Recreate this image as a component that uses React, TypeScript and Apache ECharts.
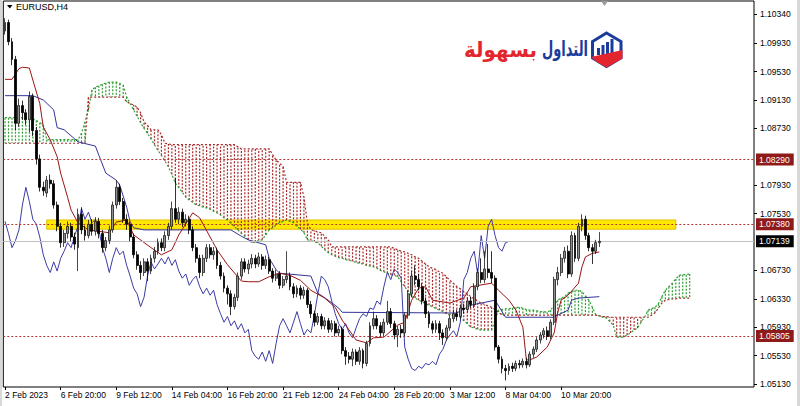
import React, { useEffect, useRef } from "react";
import * as echarts from "echarts";

// ---------- data ----------
const SYMBOL_TITLE = "EURUSD,H4";
const LOGO_BLUE_WORD = "التداول";
const LOGO_RED_WORD = "بسهولة";
const BAR_SLOTS = 216; // visible bar slots on the H4 time axis

const X_TICKS: [number, string][] = [
  [0, "2 Feb 2023"], [16, "6 Feb 20:00"], [32, "9 Feb 12:00"], [48, "14 Feb 04:00"],
  [64, "16 Feb 20:00"], [80, "21 Feb 12:00"], [96, "24 Feb 04:00"], [112, "28 Feb 20:00"],
  [128, "3 Mar 12:00"], [144, "8 Mar 04:00"], [160, "10 Mar 20:00"],
];
const Y_TICKS = [1.1034, 1.0993, 1.0953, 1.0913, 1.0873, 1.0793, 1.0753, 1.0673, 1.0633, 1.0593, 1.0553, 1.0513];
const Y_MIN = 1.05088;
const Y_MAX = 1.10523;

// [open, close, low, high]
const CANDLES: number[][] = [
  [1.1010, 1.1022, 1.1005, 1.1028], [1.1022, 1.0995, 1.0990, 1.1026], [1.0995, 1.0970, 1.0962, 1.1000], [1.0970, 1.0880, 1.0870, 1.0975],
  [1.0880, 1.0905, 1.0875, 1.0915], [1.0905, 1.0895, 1.0885, 1.0912], [1.0895, 1.0885, 1.0878, 1.0900], [1.0885, 1.0918, 1.0868, 1.0925],
  [1.0918, 1.0870, 1.0862, 1.0922], [1.0870, 1.0830, 1.0822, 1.0875], [1.0830, 1.0790, 1.0784, 1.0836], [1.0790, 1.0785, 1.0778, 1.0798],
  [1.0782, 1.0800, 1.0776, 1.0806], [1.0800, 1.0795, 1.0788, 1.0808], [1.0795, 1.0765, 1.0760, 1.0800], [1.0765, 1.0735, 1.0728, 1.0770],
  [1.0735, 1.0712, 1.0705, 1.0740], [1.0712, 1.0725, 1.0706, 1.0730], [1.0725, 1.0735, 1.0718, 1.0742], [1.0735, 1.0720, 1.0714, 1.0740],
  [1.0720, 1.0710, 1.0702, 1.0726], [1.0705, 1.0752, 1.0672, 1.0760], [1.0752, 1.0730, 1.0724, 1.0762], [1.0730, 1.0722, 1.0715, 1.0736],
  [1.0722, 1.0738, 1.0718, 1.0744], [1.0738, 1.0728, 1.0722, 1.0745], [1.0728, 1.0742, 1.0722, 1.0748], [1.0742, 1.0725, 1.0718, 1.0747],
  [1.0725, 1.0705, 1.0698, 1.0730], [1.0705, 1.0715, 1.0700, 1.0720], [1.0715, 1.0730, 1.0710, 1.0736], [1.0730, 1.0765, 1.0726, 1.0770],
  [1.0765, 1.0790, 1.0760, 1.0800], [1.0790, 1.0770, 1.0765, 1.0795], [1.0770, 1.0745, 1.0740, 1.0775], [1.0745, 1.0738, 1.0730, 1.0752],
  [1.0738, 1.0720, 1.0714, 1.0742], [1.0720, 1.0695, 1.0690, 1.0725], [1.0695, 1.0680, 1.0674, 1.0700], [1.0680, 1.0670, 1.0660, 1.0686],
  [1.0670, 1.0685, 1.0665, 1.0690], [1.0685, 1.0672, 1.0658, 1.0690], [1.0672, 1.0690, 1.0668, 1.0695], [1.0690, 1.0700, 1.0684, 1.0706],
  [1.0700, 1.0712, 1.0695, 1.0718], [1.0712, 1.0705, 1.0700, 1.0718], [1.0705, 1.0722, 1.0700, 1.0728], [1.0722, 1.0735, 1.0716, 1.0740],
  [1.0735, 1.0760, 1.0730, 1.0770], [1.0760, 1.0745, 1.0740, 1.0803], [1.0745, 1.0755, 1.0738, 1.0762], [1.0755, 1.0740, 1.0734, 1.0760],
  [1.0740, 1.0745, 1.0735, 1.0752], [1.0745, 1.0730, 1.0724, 1.0750], [1.0730, 1.0705, 1.0700, 1.0735], [1.0705, 1.0690, 1.0684, 1.0710],
  [1.0690, 1.0670, 1.0662, 1.0695], [1.0670, 1.0690, 1.0665, 1.0695], [1.0690, 1.0705, 1.0685, 1.0710], [1.0705, 1.0695, 1.0690, 1.0710],
  [1.0695, 1.0700, 1.0688, 1.0706], [1.0700, 1.0680, 1.0675, 1.0705], [1.0680, 1.0665, 1.0660, 1.0685], [1.0665, 1.0648, 1.0642, 1.0670],
  [1.0648, 1.0640, 1.0625, 1.0652], [1.0640, 1.0622, 1.0610, 1.0645], [1.0622, 1.0635, 1.0618, 1.0640], [1.0635, 1.0665, 1.0630, 1.0670],
  [1.0665, 1.0685, 1.0660, 1.0690], [1.0685, 1.0675, 1.0670, 1.0690], [1.0675, 1.0682, 1.0668, 1.0688], [1.0682, 1.0690, 1.0676, 1.0696],
  [1.0690, 1.0682, 1.0676, 1.0695], [1.0682, 1.0692, 1.0678, 1.0698], [1.0692, 1.0680, 1.0674, 1.0696], [1.0680, 1.0688, 1.0675, 1.0694],
  [1.0688, 1.0672, 1.0668, 1.0692], [1.0672, 1.0662, 1.0656, 1.0676], [1.0662, 1.0668, 1.0658, 1.0674], [1.0668, 1.0652, 1.0647, 1.0672],
  [1.0652, 1.0660, 1.0648, 1.0665], [1.0660, 1.0665, 1.0655, 1.0700], [1.0665, 1.0650, 1.0645, 1.0670], [1.0650, 1.0640, 1.0634, 1.0655],
  [1.0640, 1.0648, 1.0635, 1.0652], [1.0648, 1.0638, 1.0632, 1.0652], [1.0638, 1.0645, 1.0633, 1.0650], [1.0645, 1.0625, 1.0620, 1.0648],
  [1.0625, 1.0612, 1.0606, 1.0630], [1.0612, 1.0600, 1.0594, 1.0616], [1.0600, 1.0608, 1.0596, 1.0613], [1.0608, 1.0595, 1.0590, 1.0612],
  [1.0595, 1.0602, 1.0590, 1.0607], [1.0602, 1.0590, 1.0585, 1.0606], [1.0590, 1.0598, 1.0586, 1.0603], [1.0598, 1.0585, 1.0580, 1.0602],
  [1.0585, 1.0590, 1.0580, 1.0595], [1.0590, 1.0560, 1.0555, 1.0594], [1.0560, 1.0552, 1.0540, 1.0565], [1.0552, 1.0548, 1.0542, 1.0558],
  [1.0548, 1.0558, 1.0538, 1.0563], [1.0558, 1.0545, 1.0540, 1.0562], [1.0545, 1.0560, 1.0540, 1.0565], [1.0560, 1.0542, 1.0535, 1.0563],
  [1.0542, 1.0570, 1.0538, 1.0574], [1.0570, 1.0595, 1.0566, 1.0600], [1.0595, 1.0605, 1.0590, 1.0615], [1.0605, 1.0595, 1.0590, 1.0610],
  [1.0595, 1.0585, 1.0580, 1.0600], [1.0585, 1.0600, 1.0580, 1.0605], [1.0600, 1.0615, 1.0596, 1.0630], [1.0615, 1.0598, 1.0592, 1.0620],
  [1.0598, 1.0582, 1.0576, 1.0602], [1.0582, 1.0590, 1.0565, 1.0595], [1.0590, 1.0585, 1.0578, 1.0596], [1.0585, 1.0610, 1.0580, 1.0614],
  [1.0610, 1.0640, 1.0605, 1.0645], [1.0640, 1.0665, 1.0635, 1.0672], [1.0665, 1.0660, 1.0652, 1.0680], [1.0660, 1.0650, 1.0645, 1.0668],
  [1.0650, 1.0630, 1.0625, 1.0655], [1.0630, 1.0612, 1.0606, 1.0635], [1.0612, 1.0598, 1.0592, 1.0616], [1.0598, 1.0590, 1.0584, 1.0602],
  [1.0590, 1.0598, 1.0585, 1.0603], [1.0598, 1.0585, 1.0575, 1.0602], [1.0585, 1.0578, 1.0568, 1.0590], [1.0578, 1.0592, 1.0574, 1.0596],
  [1.0592, 1.0605, 1.0588, 1.0610], [1.0605, 1.0612, 1.0600, 1.0618], [1.0612, 1.0608, 1.0602, 1.0618], [1.0608, 1.0620, 1.0604, 1.0625],
  [1.0620, 1.0618, 1.0612, 1.0626], [1.0618, 1.0630, 1.0614, 1.0635], [1.0630, 1.0625, 1.0620, 1.0636], [1.0625, 1.0650, 1.0620, 1.0655],
  [1.0650, 1.0670, 1.0645, 1.0676], [1.0670, 1.0660, 1.0655, 1.0690], [1.0660, 1.0675, 1.0655, 1.0700], [1.0675, 1.0670, 1.0662, 1.0710],
  [1.0670, 1.0662, 1.0655, 1.0700], [1.0662, 1.0565, 1.0560, 1.0666], [1.0565, 1.0548, 1.0542, 1.0568], [1.0548, 1.0535, 1.0528, 1.0552],
  [1.0535, 1.0532, 1.0518, 1.0540], [1.0532, 1.0538, 1.0526, 1.0542], [1.0538, 1.0535, 1.0530, 1.0543], [1.0535, 1.0542, 1.0531, 1.0546],
  [1.0542, 1.0540, 1.0535, 1.0547], [1.0540, 1.0545, 1.0536, 1.0549], [1.0545, 1.0540, 1.0535, 1.0550], [1.0540, 1.0555, 1.0537, 1.0559],
  [1.0555, 1.0562, 1.0550, 1.0566], [1.0562, 1.0575, 1.0558, 1.0579], [1.0575, 1.0582, 1.0570, 1.0586], [1.0582, 1.0588, 1.0577, 1.0592],
  [1.0588, 1.0580, 1.0575, 1.0594], [1.0580, 1.0600, 1.0576, 1.0604], [1.0600, 1.0660, 1.0596, 1.0664], [1.0660, 1.0670, 1.0652, 1.0678],
  [1.0670, 1.0690, 1.0665, 1.0696], [1.0690, 1.0700, 1.0684, 1.0706], [1.0700, 1.0668, 1.0662, 1.0708], [1.0668, 1.0722, 1.0664, 1.0728],
  [1.0722, 1.0690, 1.0685, 1.0726], [1.0690, 1.0735, 1.0686, 1.0740], [1.0735, 1.0745, 1.0728, 1.0752], [1.0745, 1.0722, 1.0716, 1.0750],
  [1.0722, 1.0705, 1.0700, 1.0726], [1.0705, 1.0700, 1.0682, 1.0710], [1.0700, 1.0712, 1.0696, 1.0716], [1.0712, 1.07139, 1.0706, 1.0727],
];

// [bar, price]
const TENKAN: number[][] = [
  [0, 1.0942], [2, 1.0942], [4, 1.0957], [5, 1.0959], [7, 1.0958], [8, 1.0941], [10, 1.0908], [11, 1.0875], [13, 1.0857],
  [15, 1.0833], [16, 1.0810], [18, 1.0776], [19, 1.0758], [21, 1.0740], [24, 1.0730], [30, 1.0726], [32, 1.0741], [35, 1.0744],
  [37, 1.0723], [42, 1.0705], [45, 1.0695], [48, 1.0702], [50, 1.0723], [54, 1.0754], [56, 1.0747], [61, 1.0702], [64, 1.0681],
  [68, 1.0658], [70, 1.0657], [73, 1.0657], [76, 1.0664], [79, 1.0669], [82, 1.0666], [85, 1.0659], [88, 1.0645], [92, 1.0634],
  [95, 1.0621], [97, 1.0603], [101, 1.0575], [104, 1.0571], [106, 1.0578], [109, 1.0579], [113, 1.0596], [115, 1.0600],
  [117, 1.0631], [119, 1.0648], [121, 1.0650], [123, 1.0631], [128, 1.0627], [132, 1.0634], [134, 1.0650], [140, 1.0655],
  [142, 1.0645], [145, 1.0631], [147, 1.0617], [149, 1.0593], [150, 1.0547], [151, 1.0547], [153, 1.0551], [156, 1.0565],
  [158, 1.0585], [159, 1.0613], [160, 1.0631], [162, 1.0638], [165, 1.0655], [166, 1.0678], [167, 1.0692], [169, 1.0697], [171, 1.0699],
];

const KIJUN: number[][] = [
  [0, 1.0919], [8, 1.0919], [11, 1.0913], [14, 1.0899], [15, 1.0874], [17, 1.0871], [21, 1.0854], [26, 1.0848], [27, 1.0835],
  [29, 1.0810], [32, 1.0800], [33, 1.0793], [35, 1.0762], [36, 1.0741], [37, 1.0733], [40, 1.0730], [65, 1.0730], [68, 1.0721],
  [70, 1.0716], [75, 1.0709], [76, 1.0690], [78, 1.0674], [79, 1.0669], [88, 1.0665], [90, 1.0641], [93, 1.0631], [96, 1.0620],
  [97, 1.0614], [130, 1.0613], [134, 1.0624], [141, 1.0631], [144, 1.0607], [158, 1.0607], [159, 1.0610], [162, 1.0617],
  [163, 1.0631], [165, 1.0634], [171, 1.0636],
];

const SENKOU_A: number[] = [
  1.0888, 1.0888, 1.0888, 1.0888, 1.0888, 1.0888, 1.0888, 1.0888, 1.0886, 1.0884,
  1.0881, 1.0878, 1.0857, 1.0857, 1.0857, 1.0857, 1.0857, 1.0857, 1.0857, 1.0857,
  1.0857, 1.0857, 1.0866, 1.0882, 1.0899, 1.0927, 1.0931, 1.0933, 1.0935, 1.0937,
  1.0938, 1.0938, 1.0938, 1.0936, 1.0934, 1.0917, 1.0908, 1.0899, 1.0890, 1.0881,
  1.0873, 1.0866, 1.0858, 1.0850, 1.0842, 1.0835, 1.0827, 1.0819, 1.0808, 1.0796,
  1.0789, 1.0783, 1.0776, 1.0772, 1.0769, 1.0765, 1.0764, 1.0762, 1.0761, 1.0759,
  1.0756, 1.0754, 1.0751, 1.0747, 1.0744, 1.0739, 1.0735, 1.0730, 1.0725, 1.0721,
  1.0716, 1.0712, 1.0713, 1.0715, 1.0716, 1.0723, 1.0730, 1.0733, 1.0737, 1.0740,
  1.0742, 1.0744, 1.0742, 1.0740, 1.0735, 1.0731, 1.0726, 1.0716, 1.0715, 1.0713,
  1.0712, 1.0707, 1.0702, 1.0698, 1.0695, 1.0693, 1.0691, 1.0690, 1.0688, 1.0687,
  1.0686, 1.0684, 1.0683, 1.0682, 1.0680, 1.0679, 1.0678, 1.0676, 1.0673, 1.0671,
  1.0669, 1.0667, 1.0666, 1.0664, 1.0657, 1.0650, 1.0643, 1.0636, 1.0634, 1.0631,
  1.0629, 1.0626, 1.0624, 1.0622, 1.0619, 1.0617, 1.0615, 1.0612, 1.0610, 1.0609,
  1.0608, 1.0607, 1.0602, 1.0598, 1.0593, 1.0592, 1.0590, 1.0589, 1.0589, 1.0589,
  1.0589, 1.0603, 1.0617, 1.0618, 1.0619, 1.0619, 1.0620, 1.0621, 1.0621, 1.0620,
  1.0618, 1.0617, 1.0617, 1.0616, 1.0615, 1.0615, 1.0614, 1.0617, 1.0624, 1.0631,
  1.0634, 1.0636, 1.0641, 1.0643, 1.0645, 1.0645, 1.0643, 1.0637, 1.0631, 1.0621,
  1.0610, 1.0609, 1.0607, 1.0606, 1.0601, 1.0596, 1.0579, 1.0579, 1.0579, 1.0582,
  1.0585, 1.0589, 1.0592, 1.0600, 1.0607, 1.0617, 1.0619, 1.0621, 1.0626, 1.0636,
  1.0645, 1.0650, 1.0655, 1.0661, 1.0666, 1.0667, 1.0667, 1.0668,
];

const SENKOU_B: number[] = [
  1.0852, 1.0852, 1.0852, 1.0852, 1.0852, 1.0852, 1.0852, 1.0852, 1.0852, 1.0852,
  1.0852, 1.0852, 1.0852, 1.0852, 1.0852, 1.0852, 1.0852, 1.0852, 1.0852, 1.0852,
  1.0852, 1.0852, 1.0852, 1.0852, 1.0917, 1.0917, 1.0917, 1.0917, 1.0917, 1.0917,
  1.0917, 1.0917, 1.0917, 1.0917, 1.0917, 1.0910, 1.0908, 1.0906, 1.0903, 1.0895,
  1.0882, 1.0877, 1.0871, 1.0871, 1.0871, 1.0864, 1.0852, 1.0851, 1.0850, 1.0850,
  1.0850, 1.0850, 1.0850, 1.0850, 1.0850, 1.0850, 1.0850, 1.0850, 1.0850, 1.0850,
  1.0850, 1.0850, 1.0850, 1.0850, 1.0850, 1.0850, 1.0850, 1.0847, 1.0844, 1.0844,
  1.0844, 1.0844, 1.0844, 1.0844, 1.0844, 1.0844, 1.0844, 1.0836, 1.0828, 1.0824,
  1.0819, 1.0797, 1.0797, 1.0797, 1.0797, 1.0797, 1.0776, 1.0740, 1.0730, 1.0729,
  1.0727, 1.0726, 1.0721, 1.0716, 1.0706, 1.0706, 1.0706, 1.0706, 1.0706, 1.0706,
  1.0706, 1.0706, 1.0706, 1.0706, 1.0706, 1.0706, 1.0706, 1.0706, 1.0706, 1.0706,
  1.0706, 1.0706, 1.0704, 1.0702, 1.0700, 1.0699, 1.0697, 1.0695, 1.0692, 1.0690,
  1.0686, 1.0682, 1.0678, 1.0676, 1.0674, 1.0671, 1.0669, 1.0664, 1.0659, 1.0655,
  1.0650, 1.0647, 1.0643, 1.0640, 1.0636, 1.0633, 1.0630, 1.0627, 1.0625, 1.0623,
  1.0621, 1.0618, 1.0614, 1.0610, 1.0610, 1.0610, 1.0610, 1.0610, 1.0610, 1.0610,
  1.0610, 1.0610, 1.0610, 1.0610, 1.0610, 1.0610, 1.0610, 1.0610, 1.0610, 1.0610,
  1.0610, 1.0610, 1.0610, 1.0610, 1.0610, 1.0610, 1.0610, 1.0610, 1.0610, 1.0610,
  1.0610, 1.0609, 1.0608, 1.0608, 1.0607, 1.0607, 1.0607, 1.0607, 1.0607, 1.0607,
  1.0607, 1.0607, 1.0607, 1.0607, 1.0607, 1.0607, 1.0610, 1.0613, 1.0620, 1.0627,
  1.0631, 1.0632, 1.0633, 1.0633, 1.0634, 1.0634, 1.0634, 1.0634,
];

const CHIKOU_SHIFT = 26;
const RESISTANCE_LEVELS = [1.0829, 1.0738];
const SUPPORT_LEVELS = [1.05805];
const BID_PRICE = 1.07139;
const ZONE = { fromBar: 12, toBar: 193, low: 1.0731, high: 1.0744 };

// ---------- styles ----------
const FONT = "'Liberation Sans', Arial, sans-serif";
const AR_FONT = "'DejaVu Sans', sans-serif";
const C_TENKAN = "#9a1414";
const C_KIJUN = "#34349a";
const C_CHIKOU = "#3c3ca6";
const C_SPAN_A = "#2f9e34";
const C_SPAN_B = "#a82a2a";
const C_LEVEL = "#b23a3a";
const C_LEVEL_BOX = "#8e1a1a";
const C_LOGO_BLUE = "#1c3c9c";
const C_LOGO_RED = "#e3262e";

function buildOption() {
  const categories = Array.from({ length: BAR_SLOTS }, (_, i) => String(i));
  const tickMap = new Map<number, string>(X_TICKS);
  const showTick = (idx: number) => tickMap.has(idx);
  const closes = CANDLES.map((c) => c[1]);
  const chikou = closes.slice(CHIKOU_SHIFT);
  const cloud = SENKOU_A.map((a, i) => [i, a, SENKOU_B[i]]);

  const boxLabel = (bg: string) => ({
    show: true, position: "end", distance: 2, formatter: (p: any) => Number(p.value).toFixed(5),
    color: "#fff", backgroundColor: bg, padding: [2, 4, 1, 3], fontSize: 8.5, fontFamily: FONT,
  });
  const levelLine = (v: number) => ({
    yAxis: v,
    lineStyle: { color: C_LEVEL, type: [2, 2], width: 1.2 },
    label: boxLabel(C_LEVEL_BOX),
  });

  return {
    animation: false,
    backgroundColor: "#ffffff",
    grid: { left: 3.3, right: 46, top: 1, bottom: 19, show: true, borderColor: "#000", borderWidth: 1, backgroundColor: "#fff" },
    xAxis: {
      type: "category",
      data: categories,
      boundaryGap: true,
      axisLine: { show: false },
      axisTick: { show: true, interval: (i: number) => showTick(i), alignWithLabel: true, length: 3, lineStyle: { color: "#000" } },
      axisLabel: {
        interval: (i: number) => showTick(i),
        formatter: (_v: string, i: number) => tickMap.get(i) ?? "",
        align: "left", margin: 3, fontSize: 8.5, fontFamily: FONT, color: "#000",
      },
      splitLine: { show: false },
    },
    yAxis: {
      type: "value",
      position: "right",
      min: Y_MIN,
      max: Y_MAX,
      axisLine: { show: false },
      axisTick: { show: true, customValues: Y_TICKS, length: 3, lineStyle: { color: "#000" } },
      axisLabel: { customValues: Y_TICKS, formatter: (v: number) => v.toFixed(5), margin: 6, fontSize: 8.5, fontFamily: FONT, color: "#000" },
      splitLine: { show: false },
    },
    graphic: [
      { type: "rect", shape: { x: 0, y: 0, width: 2, height: 406 }, style: { fill: "#d8d8d8" }, silent: true },
      { type: "rect", shape: { x: 797, y: 0, width: 3, height: 406 }, style: { fill: "#d8d8d8" }, silent: true },
      { type: "polygon", shape: { points: [[7, 5], [12.5, 5], [9.75, 8.5]] }, style: { fill: "#000" }, silent: true },
      { type: "text", x: 16, y: 7, style: { text: SYMBOL_TITLE, fill: "#000", fontSize: 9, fontFamily: FONT, verticalAlign: "middle" }, silent: true },
      { type: "polygon", shape: { points: [[601, 1], [608, 1], [604.5, 6]] }, style: { fill: "#9c9c9c" }, silent: true },
      { type: "text", x: 588, y: 49, scaleX: 0.62, style: { text: LOGO_BLUE_WORD, fill: C_LOGO_BLUE, fontSize: 21, fontWeight: "bold", fontFamily: AR_FONT, align: "right", verticalAlign: "middle" }, silent: true },
      { type: "text", x: 537, y: 50, scaleX: 0.95, style: { text: LOGO_RED_WORD, fill: C_LOGO_RED, fontSize: 21, fontWeight: "bold", fontFamily: AR_FONT, align: "right", verticalAlign: "middle" }, silent: true },
      { type: "polygon", shape: { points: [[606.5, 33], [621, 41.5], [621, 58], [606.5, 66.5], [592.5, 58], [592.5, 41.5]] }, style: { fill: "none", stroke: C_LOGO_BLUE, lineWidth: 3 }, silent: true },
      { type: "rect", shape: { x: 597, y: 48, width: 3, height: 7 }, style: { fill: C_LOGO_BLUE }, silent: true },
      { type: "rect", shape: { x: 601.5, y: 45, width: 3, height: 10 }, style: { fill: C_LOGO_BLUE }, silent: true },
      { type: "rect", shape: { x: 606, y: 42, width: 3, height: 13 }, style: { fill: C_LOGO_BLUE }, silent: true },
      { type: "rect", shape: { x: 610.5, y: 39, width: 3, height: 16 }, style: { fill: C_LOGO_BLUE }, silent: true },
      { type: "polygon", shape: { points: [[591, 57], [622.5, 50], [622.5, 58.5], [606.5, 67.5], [596, 61.5]] }, style: { fill: C_LOGO_RED }, silent: true },
    ],
    series: [
      {
        name: "zone", type: "line", data: [], z: 1, silent: true,
        markArea: {
          silent: true,
          itemStyle: { color: "#ffe900", borderColor: "#e2bf00", borderWidth: 1 },
          data: [[{ coord: [ZONE.fromBar, ZONE.high] }, { coord: [ZONE.toBar, ZONE.low] }]],
        },
      },
      {
        name: "cloud", type: "custom", z: 2, silent: true,
        data: cloud,
        encode: { x: 0, y: [1, 2] },
        renderItem: (_p: any, api: any) => {
          const i = api.value(0);
          const a = api.value(1);
          const b = api.value(2);
          const pa = api.coord([i, a]);
          const pb = api.coord([i, b]);
          return {
            type: "line",
            shape: { x1: pa[0], y1: pa[1], x2: pb[0], y2: pb[1] },
            style: { stroke: a >= b ? C_SPAN_A : C_SPAN_B, lineWidth: 1.2, lineDash: [2, 1.5] },
          };
        },
      },
      { name: "Senkou A", type: "line", data: SENKOU_A, z: 3, showSymbol: false, silent: true, lineStyle: { color: C_SPAN_A, width: 1.2, type: [2, 2] } },
      { name: "Senkou B", type: "line", data: SENKOU_B, z: 3, showSymbol: false, silent: true, lineStyle: { color: C_SPAN_B, width: 1.2, type: [2, 2] } },
      {
        name: "levels", type: "line", data: [], z: 3, silent: true,
        markLine: {
          silent: true, symbol: ["none", "none"], animation: false, precision: 5,
          data: [
            ...RESISTANCE_LEVELS.map(levelLine),
            ...SUPPORT_LEVELS.map(levelLine),
            {
              yAxis: BID_PRICE,
              lineStyle: { color: "#c0c0c0", type: "solid", width: 1 },
              label: boxLabel("#000"),
            },
          ],
        },
      },
      { name: "Chikou", type: "line", data: chikou, z: 4, showSymbol: false, silent: true, lineStyle: { color: C_CHIKOU, width: 1 } },
      { name: "Kijun", type: "line", data: KIJUN, z: 4, showSymbol: false, silent: true, lineStyle: { color: C_KIJUN, width: 1 } },
      { name: "Tenkan", type: "line", data: TENKAN, z: 4, showSymbol: false, silent: true, lineStyle: { color: C_TENKAN, width: 1 } },
      {
        name: SYMBOL_TITLE, type: "candlestick", data: CANDLES, z: 5, silent: true, barWidth: 2.4,
        itemStyle: { color: "#8f8f8f", color0: "#000000", borderColor: "#1a1a1a", borderColor0: "#000000", borderWidth: 0.8 },
      },
    ],
  };
}

export default function App() {
  const ref = useRef<HTMLDivElement>(null);
  useEffect(() => {
    if (!ref.current) return;
    const chart = echarts.init(ref.current, null, { renderer: "svg" });
    chart.setOption(buildOption() as any);
    return () => chart.dispose();
  }, []);
  return <div ref={ref} style={{ position: "absolute", left: 0, top: 0, width: 800, height: 406, background: "#fff" }} />;
}
